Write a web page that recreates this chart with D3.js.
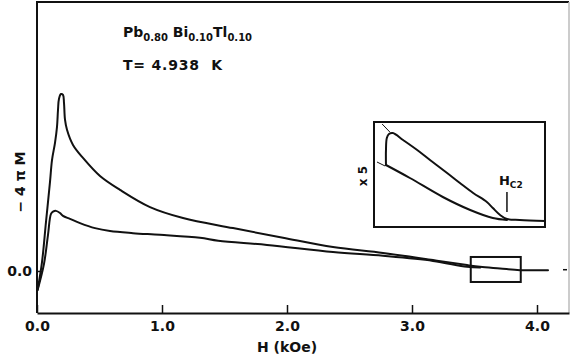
<!DOCTYPE html>
<html>
<head>
	<meta charset="utf-8">
	<title>Pb-Bi-Tl magnetization</title>
	<script src="https://cdnjs.cloudflare.com/ajax/libs/d3/7.8.5/d3.min.js" charset="utf-8"></script>
	<style>
		body { margin: 0; background: #fff; }
		svg text { font-family: "DejaVu Sans", sans-serif; font-weight: bold; fill: #111; }
		.curve { fill: none; stroke: #111; stroke-width: 2; stroke-linejoin: round; stroke-linecap: round; }
		.frame { fill: none; stroke: #111; stroke-width: 2; }
	</style>
</head>
<body>
<div id="chart"></div>

<script>

//############### data ##################
// field H in kOe, -4piM in arbitrary units (0.0 at the tick)
var xTicks = [0, 1, 2, 3, 4];
var yTicks = [0];

// branch with the sharp peak
var upperCurve = [
	[0.005,-0.45],[0.04,0.21],[0.072,1.17],[0.104,2.12],[0.12,2.64],[0.144,3.05],[0.16,3.43],
	[0.168,3.83],[0.176,4.10],[0.192,4.21],[0.208,4.19],[0.216,4.0],[0.224,3.6],[0.24,3.36],
	[0.288,3.0],[0.368,2.69],[0.504,2.26],[0.664,1.93],[0.904,1.52],[1.168,1.26],[1.568,1.02],
	[1.968,0.79],[2.368,0.57],[2.768,0.43],[3.168,0.26],[3.44,0.14],[3.544,0.1],[3.704,0.06],
	[3.864,0.02],[4.088,0.02]
];

// lower branch
var lowerCurve = [
	[0.005,-0.45],[0.056,0.17],[0.088,0.86],[0.112,1.36],[0.128,1.41],[0.152,1.43],[0.184,1.38],
	[0.208,1.31],[0.264,1.24],[0.344,1.14],[0.464,1.02],[0.584,0.95],[0.768,0.9],[0.984,0.86],
	[1.304,0.79],[1.45,0.72],[1.84,0.62],[2.368,0.45],[2.768,0.36],[3.168,0.24],[3.44,0.1],[3.544,0.08]
];

// region that is blown up in the inset
var zoomH = [3.47, 3.87];
var zoomM = [-0.262, 0.333];

// inset (x5) curves
var insetUpper = [
	[3.498,1.09],[3.498,1.39],[3.5,1.63],[3.505,1.71],[3.514,1.73],[3.538,1.59],[3.571,1.39],
	[3.601,1.19],[3.641,0.93],[3.671,0.73],[3.702,0.53],[3.734,0.35],[3.748,0.23],[3.765,0.09],
	[3.781,0.01],[3.811,-0.01],[3.87,-0.03]
];
var insetLower = [[3.498,1.09],[3.554,0.83],[3.631,0.45],[3.695,0.19],[3.748,0.03],[3.781,-0.01]];
var insetGuides = [
	[[3.489,1.91],[3.507,1.75]],
	[[3.477,1.15],[3.496,1.07]]
];
var hc2 = 3.781;
var hc2Mark = [0.15, 0.55];

//############### chart ##################
var width = 571,
	height = 360;

var svg = d3.select("#chart")
	.append("svg")
	.attr("width", width)
	.attr("height", height);

var x = d3.scaleLinear().domain([0, 4.256]).range([37, 569]);
var y = d3.scaleLinear().domain([-1.0, 6.4]).range([313, 2]);

var line = d3.line()
	.x(function(d) { return x(d[0]); })
	.y(function(d) { return y(d[1]); })
	.curve(d3.curveCatmullRom.alpha(0.5));

// frame
svg.append("path").attr("class", "frame")
	.attr("d", "M" + x(0) + "," + y(-1) + "V" + y(6.4) + "H" + x(4.256));
svg.append("line")
	.attr("x1", x(4.256)).attr("x2", x(4.256))
	.attr("y1", y(6.4)).attr("y2", y(-1))
	.attr("stroke", "#bbb").attr("stroke-width", 1.5);

// bottom axis, ticks pointing inward
var xAxis = svg.append("g")
	.attr("transform", "translate(0," + y(-1) + ")")
	.call(d3.axisBottom(x).tickValues(xTicks).tickSizeInner(-8).tickSizeOuter(0).tickPadding(8)
		.tickFormat(d3.format(".1f")));
xAxis.select(".domain").attr("stroke", "#111").attr("stroke-width", 2);
xAxis.selectAll(".tick line").attr("stroke", "#111").attr("stroke-width", 1.5);
xAxis.selectAll("text").attr("font-size", 14).attr("font-family", "DejaVu Sans").attr("font-weight", "bold");

// left axis
var yAxis = svg.append("g")
	.attr("transform", "translate(" + x(0) + ",0)")
	.call(d3.axisLeft(y).tickValues(yTicks).tickSizeInner(-6).tickSizeOuter(0).tickPadding(5)
		.tickFormat(d3.format(".1f")));
yAxis.select(".domain").remove();
yAxis.selectAll(".tick line").attr("stroke", "#111").attr("stroke-width", 1.5);
yAxis.selectAll("text").attr("font-size", 14).attr("font-family", "DejaVu Sans").attr("font-weight", "bold");

// right side tick at 0.0
svg.append("line")
	.attr("x1", x(4.256) - 6).attr("x2", x(4.256) - 2)
	.attr("y1", y(0.03)).attr("y2", y(0.03))
	.attr("stroke", "#111").attr("stroke-width", 1.5);

// curves
svg.append("path").datum(upperCurve).attr("class", "curve").attr("d", line);
svg.append("path").datum(lowerCurve).attr("class", "curve").attr("d", line);

// small box around Hc2
svg.append("rect")
	.attr("x", x(zoomH[0])).attr("y", y(zoomM[1]))
	.attr("width", x(zoomH[1]) - x(zoomH[0]))
	.attr("height", y(zoomM[0]) - y(zoomM[1]))
	.attr("fill", "none").attr("stroke", "#111").attr("stroke-width", 2);

// axis titles
svg.append("text")
	.attr("x", x(2.0)).attr("y", 352)
	.attr("text-anchor", "middle").attr("font-size", 14)
	.text("H (kOe)");

svg.append("text")
	.attr("transform", "translate(25,182) rotate(-90)")
	.attr("text-anchor", "middle").attr("font-size", 14)
	.text("\u2212 4 \u03c0 M");

// composition and temperature
var title = svg.append("text").attr("x", 123).attr("y", 37).attr("font-size", 14);
title.append("tspan").text("Pb");
title.append("tspan").attr("font-size", 10).attr("dy", 4).text("0.80");
title.append("tspan").attr("dy", -4).text(" Bi");
title.append("tspan").attr("font-size", 10).attr("dy", 4).text("0.10");
title.append("tspan").attr("dy", -4).text("Tl");
title.append("tspan").attr("font-size", 10).attr("dy", 4).text("0.10");

svg.append("text")
	.attr("x", 123).attr("y", 70).attr("font-size", 14)
	.attr("letter-spacing", 0.8)
	.attr("xml:space", "preserve")
	.text("T= 4.938  K");

//############### inset ##################
var xi = d3.scaleLinear().domain(zoomH).range([374, 545]);
var yi = d3.scaleLinear().domain([-0.15, 1.95]).range([227, 122]);

var insetLine = d3.line()
	.x(function(d) { return xi(d[0]); })
	.y(function(d) { return yi(d[1]); })
	.curve(d3.curveCatmullRom.alpha(0.5));

svg.append("rect")
	.attr("x", 374).attr("y", 122).attr("width", 171).attr("height", 105)
	.attr("fill", "#fff").attr("stroke", "#111").attr("stroke-width", 2);

svg.selectAll(".guide").data(insetGuides).enter()
	.append("path").attr("class", "guide")
	.attr("d", d3.line().x(function(d) { return xi(d[0]); }).y(function(d) { return yi(d[1]); }))
	.attr("stroke", "#111").attr("stroke-width", 1).attr("fill", "none");

svg.append("path").datum(insetUpper).attr("class", "curve").attr("stroke-width", 2.5).attr("d", insetLine);
svg.append("path").datum(insetLower).attr("class", "curve").attr("stroke-width", 2.5).attr("d", insetLine);

svg.append("line")
	.attr("x1", xi(hc2)).attr("x2", xi(hc2))
	.attr("y1", yi(hc2Mark[1])).attr("y2", yi(hc2Mark[0]))
	.attr("stroke", "#111").attr("stroke-width", 1.5);

var hLabel = svg.append("text").attr("x", xi(hc2) - 8).attr("y", 185).attr("font-size", 13);
hLabel.append("tspan").text("H");
hLabel.append("tspan").attr("font-size", 9).attr("dy", 3).text("C2");

svg.append("text")
	.attr("transform", "translate(367,176) rotate(-90)")
	.attr("text-anchor", "middle").attr("font-size", 12)
	.text("x 5");

</script>
</body>
</html>
